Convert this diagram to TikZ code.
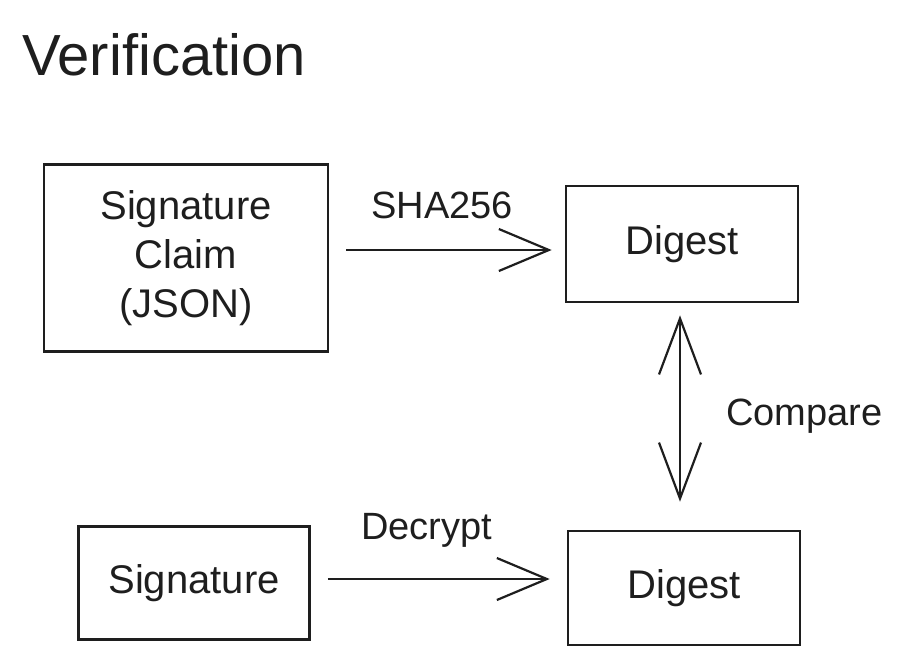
\documentclass[tikz,border=0pt]{standalone}
\usepackage{fontspec}
\setmainfont{Liberation Sans}
\usetikzlibrary{arrows.meta,positioning}
\definecolor{InkBlack}{HTML}{1E1E1E}

\begin{document}
\begin{tikzpicture}[x=1pt,y=-1pt,
  box/.style={draw=InkBlack,line width=2.6pt,minimum width=#1,align=center,
    font=\fontsize{40}{49}\selectfont,text=InkBlack},
  flow/.style={draw=InkBlack,line width=2.4pt,
    -{Straight Barb[length=50pt,width=42pt,line width=2.2pt]}},
  both/.style={draw=InkBlack,line width=2.4pt,
    {Straight Barb[length=56pt,width=42pt,line width=2.2pt]}-{Straight Barb[length=56pt,width=42pt,line width=2.2pt]}},
  lbl/.style={inner sep=0pt,font=\fontsize{38}{44}\selectfont,text=InkBlack}]
  \useasboundingbox (0,0) rectangle (904,665);

  \node[anchor=west,inner sep=0pt,font=\fontsize{58}{64}\selectfont,text=InkBlack]
      (title) at (22,55) {Verification};

  % boxes
  \node[box=284pt,minimum height=187pt] (claim) at (186,258)
      {Signature\\Claim\\(JSON)};
  \node[box=232pt,minimum height=116pt] (dtop) at (682,244) {Digest};
  \node[box=231pt,minimum height=113pt] (sig) at (194,583) {Signature};
  \node[box=232pt,minimum height=114pt] (dbot) at (684,588) {Digest};

  % connectors
  \draw[flow,shorten <=17pt,shorten >=13pt]
      ([yshift=8pt]claim.east) -- ([yshift=-6pt]dtop.west)
      node[lbl,midway,above=30pt,xshift=-5pt] {SHA256};
  \draw[flow,shorten <=17pt,shorten >=17pt]
      ([yshift=4pt]sig.east) -- ([yshift=9pt]dbot.west)
      node[lbl,midway,above=30pt,xshift=-12pt] {Decrypt};
  \draw[both,shorten <=12pt,shorten >=28pt]
      ([xshift=-2pt]dtop.south) -- ([xshift=-2pt]dtop.south |- dbot.north)
      node[lbl,midway,right=45pt] {Compare};
\end{tikzpicture}
\end{document}
